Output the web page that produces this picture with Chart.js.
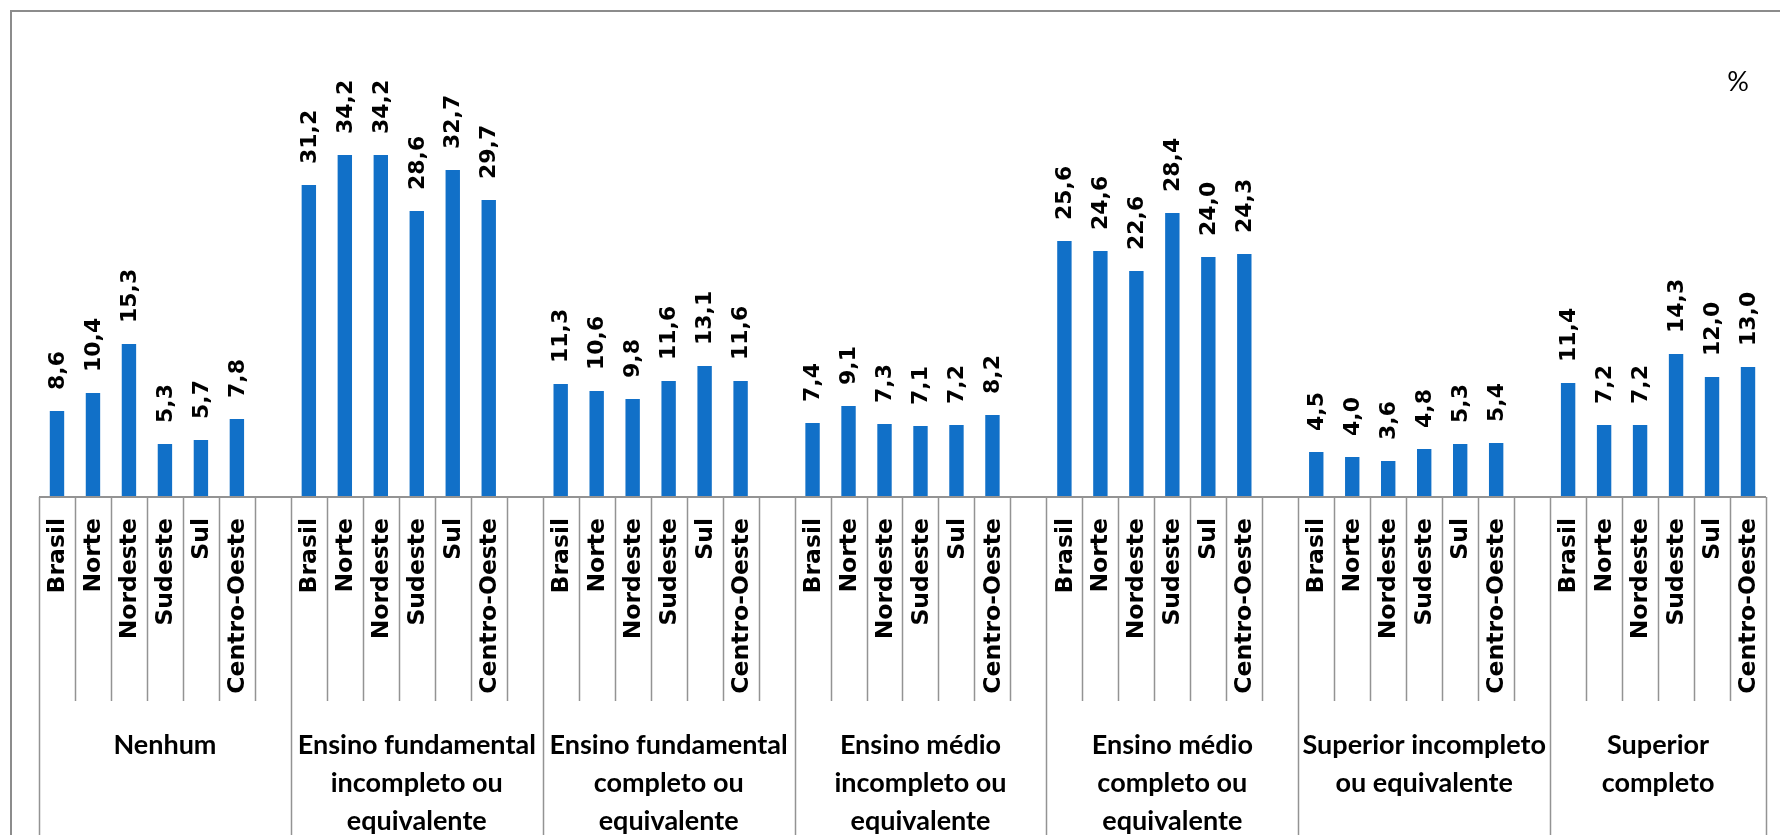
<!DOCTYPE html>
<html>
<head>
  <meta charset="UTF-8">
  <title>Escolaridade por região</title>
  <style>
    html, body { margin: 0; padding: 0; background: #fff; }
    #chart { display: block; }
  </style>
</head>
<body>
  <canvas id="chart" width="1780" height="835"></canvas>

  <script src="https://cdn.jsdelivr.net/npm/chart.js"></script>
  <script>
    // data
    const regions = ['Brasil', 'Norte', 'Nordeste', 'Sudeste', 'Sul', 'Centro-Oeste'];
    const groups = [
      ['Nenhum'],
      ['Ensino fundamental', 'incompleto ou', 'equivalente'],
      ['Ensino fundamental', 'completo ou', 'equivalente'],
      ['Ensino médio', 'incompleto ou', 'equivalente'],
      ['Ensino médio', 'completo ou', 'equivalente'],
      ['Superior incompleto', 'ou equivalente'],
      ['Superior', 'completo']
    ];
    const nenhum          = [8.6, 10.4, 15.3, 5.3, 5.7, 7.8];
    const fundIncompleto  = [31.2, 34.2, 34.2, 28.6, 32.7, 29.7];
    const fundCompleto    = [11.3, 10.6, 9.8, 11.6, 13.1, 11.6];
    const medioIncompleto = [7.4, 9.1, 7.3, 7.1, 7.2, 8.2];
    const medioCompleto   = [25.6, 24.6, 22.6, 28.4, 24.0, 24.3];
    const supIncompleto   = [4.5, 4.0, 3.6, 4.8, 5.3, 5.4];
    const supCompleto     = [11.4, 7.2, 7.2, 14.3, 12.0, 13.0];
    const unit = '%';

    const series = [nenhum, fundIncompleto, fundCompleto, medioIncompleto,
                    medioCompleto, supIncompleto, supCompleto];

    // flatten: 6 regions per group, one empty slot between groups
    const labels = [];
    const values = [];
    const groupOf = [];
    series.forEach((vals, g) => {
      vals.forEach((v, i) => { labels.push(regions[i]); values.push(v); groupOf.push(g); });
      if (g < series.length - 1) { labels.push(''); values.push(null); groupOf.push(g); }
    });

    const fmt = v => v.toFixed(1).replace('.', ',');
    const lineCol = '#939393';

    const decor = {
      id: 'decor',
      afterDatasetsDraw(chart) {
        const ctx = chart.ctx;
        const x = chart.scales.x;
        const area = chart.chartArea;
        const base = chart.scales.y.getPixelForValue(0);
        const step = x.getPixelForValue(1) - x.getPixelForValue(0);
        const edge = i => x.getPixelForValue(i) - step / 2;

        ctx.save();
        // outer frame
        ctx.strokeStyle = '#8c8c8c';
        ctx.lineWidth = 2;
        ctx.beginPath();
        ctx.moveTo(11, 900); ctx.lineTo(11, 11); ctx.lineTo(1800, 11);
        ctx.stroke();

        // category ticks
        ctx.strokeStyle = lineCol;
        ctx.lineWidth = 1.5;
        for (let i = 0; i <= labels.length; i++) {
          const px = Math.round(edge(i)) + 0.5;
          const full = i === 0 || i === labels.length || labels[i - 1] === '';
          ctx.beginPath();
          ctx.moveTo(px, base);
          ctx.lineTo(px, full ? 900 : 701);
          ctx.stroke();
        }
        // baseline
        ctx.lineWidth = 2;
        ctx.beginPath();
        ctx.moveTo(area.left, base); ctx.lineTo(area.right, base);
        ctx.stroke();

        // value labels
        ctx.fillStyle = '#000';
        ctx.font = 'bold 22px "DejaVu Sans"';
        ctx.textBaseline = 'middle';
        ctx.textAlign = 'left';
        chart.getDatasetMeta(0).data.forEach((bar, i) => {
          if (values[i] == null) return;
          ctx.save();
          ctx.translate(bar.x + 1, bar.y - 21);
          ctx.rotate(-Math.PI / 2);
          ctx.fillText(fmt(values[i]), 0, 0);
          ctx.restore();
        });

        // region labels
        ctx.font = 'bold 23.5px "DejaVu Sans"';
        ctx.textAlign = 'right';
        labels.forEach((lab, i) => {
          if (!lab) return;
          ctx.save();
          ctx.translate(x.getPixelForValue(i) + 1, base + 21);
          ctx.rotate(-Math.PI / 2);
          ctx.fillText(lab, 0, 0);
          ctx.restore();
        });

        // group labels
        ctx.font = 'bold 27px Lato';
        ctx.textAlign = 'center';
        ctx.textBaseline = 'alphabetic';
        groups.forEach((lines, g) => {
          const idx = groupOf.map((v, i) => v === g ? i : -1).filter(i => i >= 0);
          const cx = (edge(idx[0]) + edge(idx[idx.length - 1] + 1)) / 2;
          lines.forEach((t, k) => ctx.fillText(t, cx, 754 + k * 38));
        });

        // unit
        ctx.font = '27px Lato';
        ctx.fillText(unit, 1738, 91);
        ctx.restore();
      }
    };

    new Chart(document.getElementById('chart'), {
      type: 'bar',
      data: {
        labels: labels,
        datasets: [{
          data: values,
          backgroundColor: '#1170c8',
          barPercentage: 0.4,
          categoryPercentage: 1
        }]
      },
      options: {
        responsive: false,
        animation: false,
        devicePixelRatio: 1,
        layout: { padding: { left: 39, right: 14, top: 97, bottom: 338 } },
        plugins: { legend: { display: false }, tooltip: { enabled: false } },
        scales: {
          x: { display: false },
          y: { display: false, min: 0, max: 40 }
        }
      },
      plugins: [decor]
    });
  </script>
</body>
</html>
